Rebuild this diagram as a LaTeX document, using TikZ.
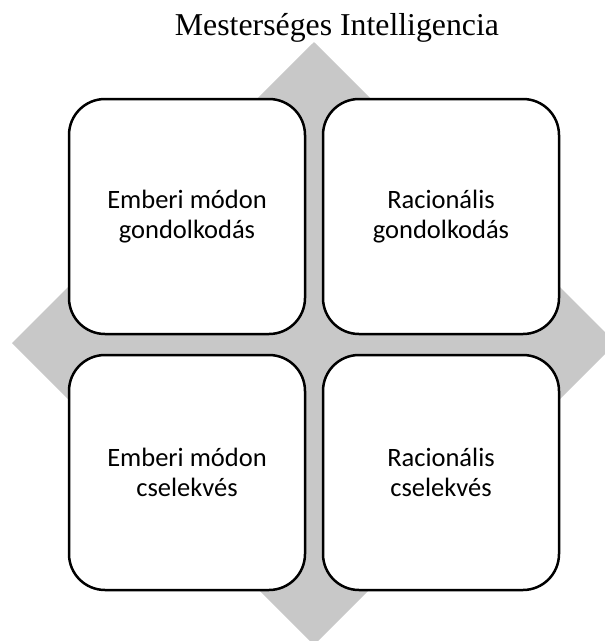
\documentclass[tikz,border=0pt]{standalone}
\usepackage{fontspec}
\setmainfont{Liberation Serif}
\newfontfamily\boxfont{Carlito}
\definecolor{diamondgray}{RGB}{200,200,200}
\begin{document}
\begin{tikzpicture}[x=1pt,y=-1pt,
  box/.style={draw, line width=2.5pt, fill=white, rounded corners=36pt,
    minimum width=236pt, minimum height=235pt, inner sep=0pt, align=center,
    font=\boxfont\fontsize{26.5}{30}\selectfont},
  titletext/.style={anchor=base, inner sep=0pt, font=\fontsize{31.8}{38}\selectfont}]
\useasboundingbox (0,0) rectangle (605,641);
\fill[diamondgray] (314,42) -- (616,343) -- (314,645) -- (12,343) -- cycle;
\node[titletext] (title) at (337,35) {Mesterséges Intelligencia};
\node[box] (tl) at (187,216.5) {Emberi módon\\gondolkodás};
\node[box] (tr) at (441,216.5) {Racionális\\gondolkodás};
\node[box] (bl) at (187,472.5) {Emberi módon\\cselekvés};
\node[box] (br) at (441,472.5) {Racionális\\cselekvés};
\end{tikzpicture}
\end{document}
